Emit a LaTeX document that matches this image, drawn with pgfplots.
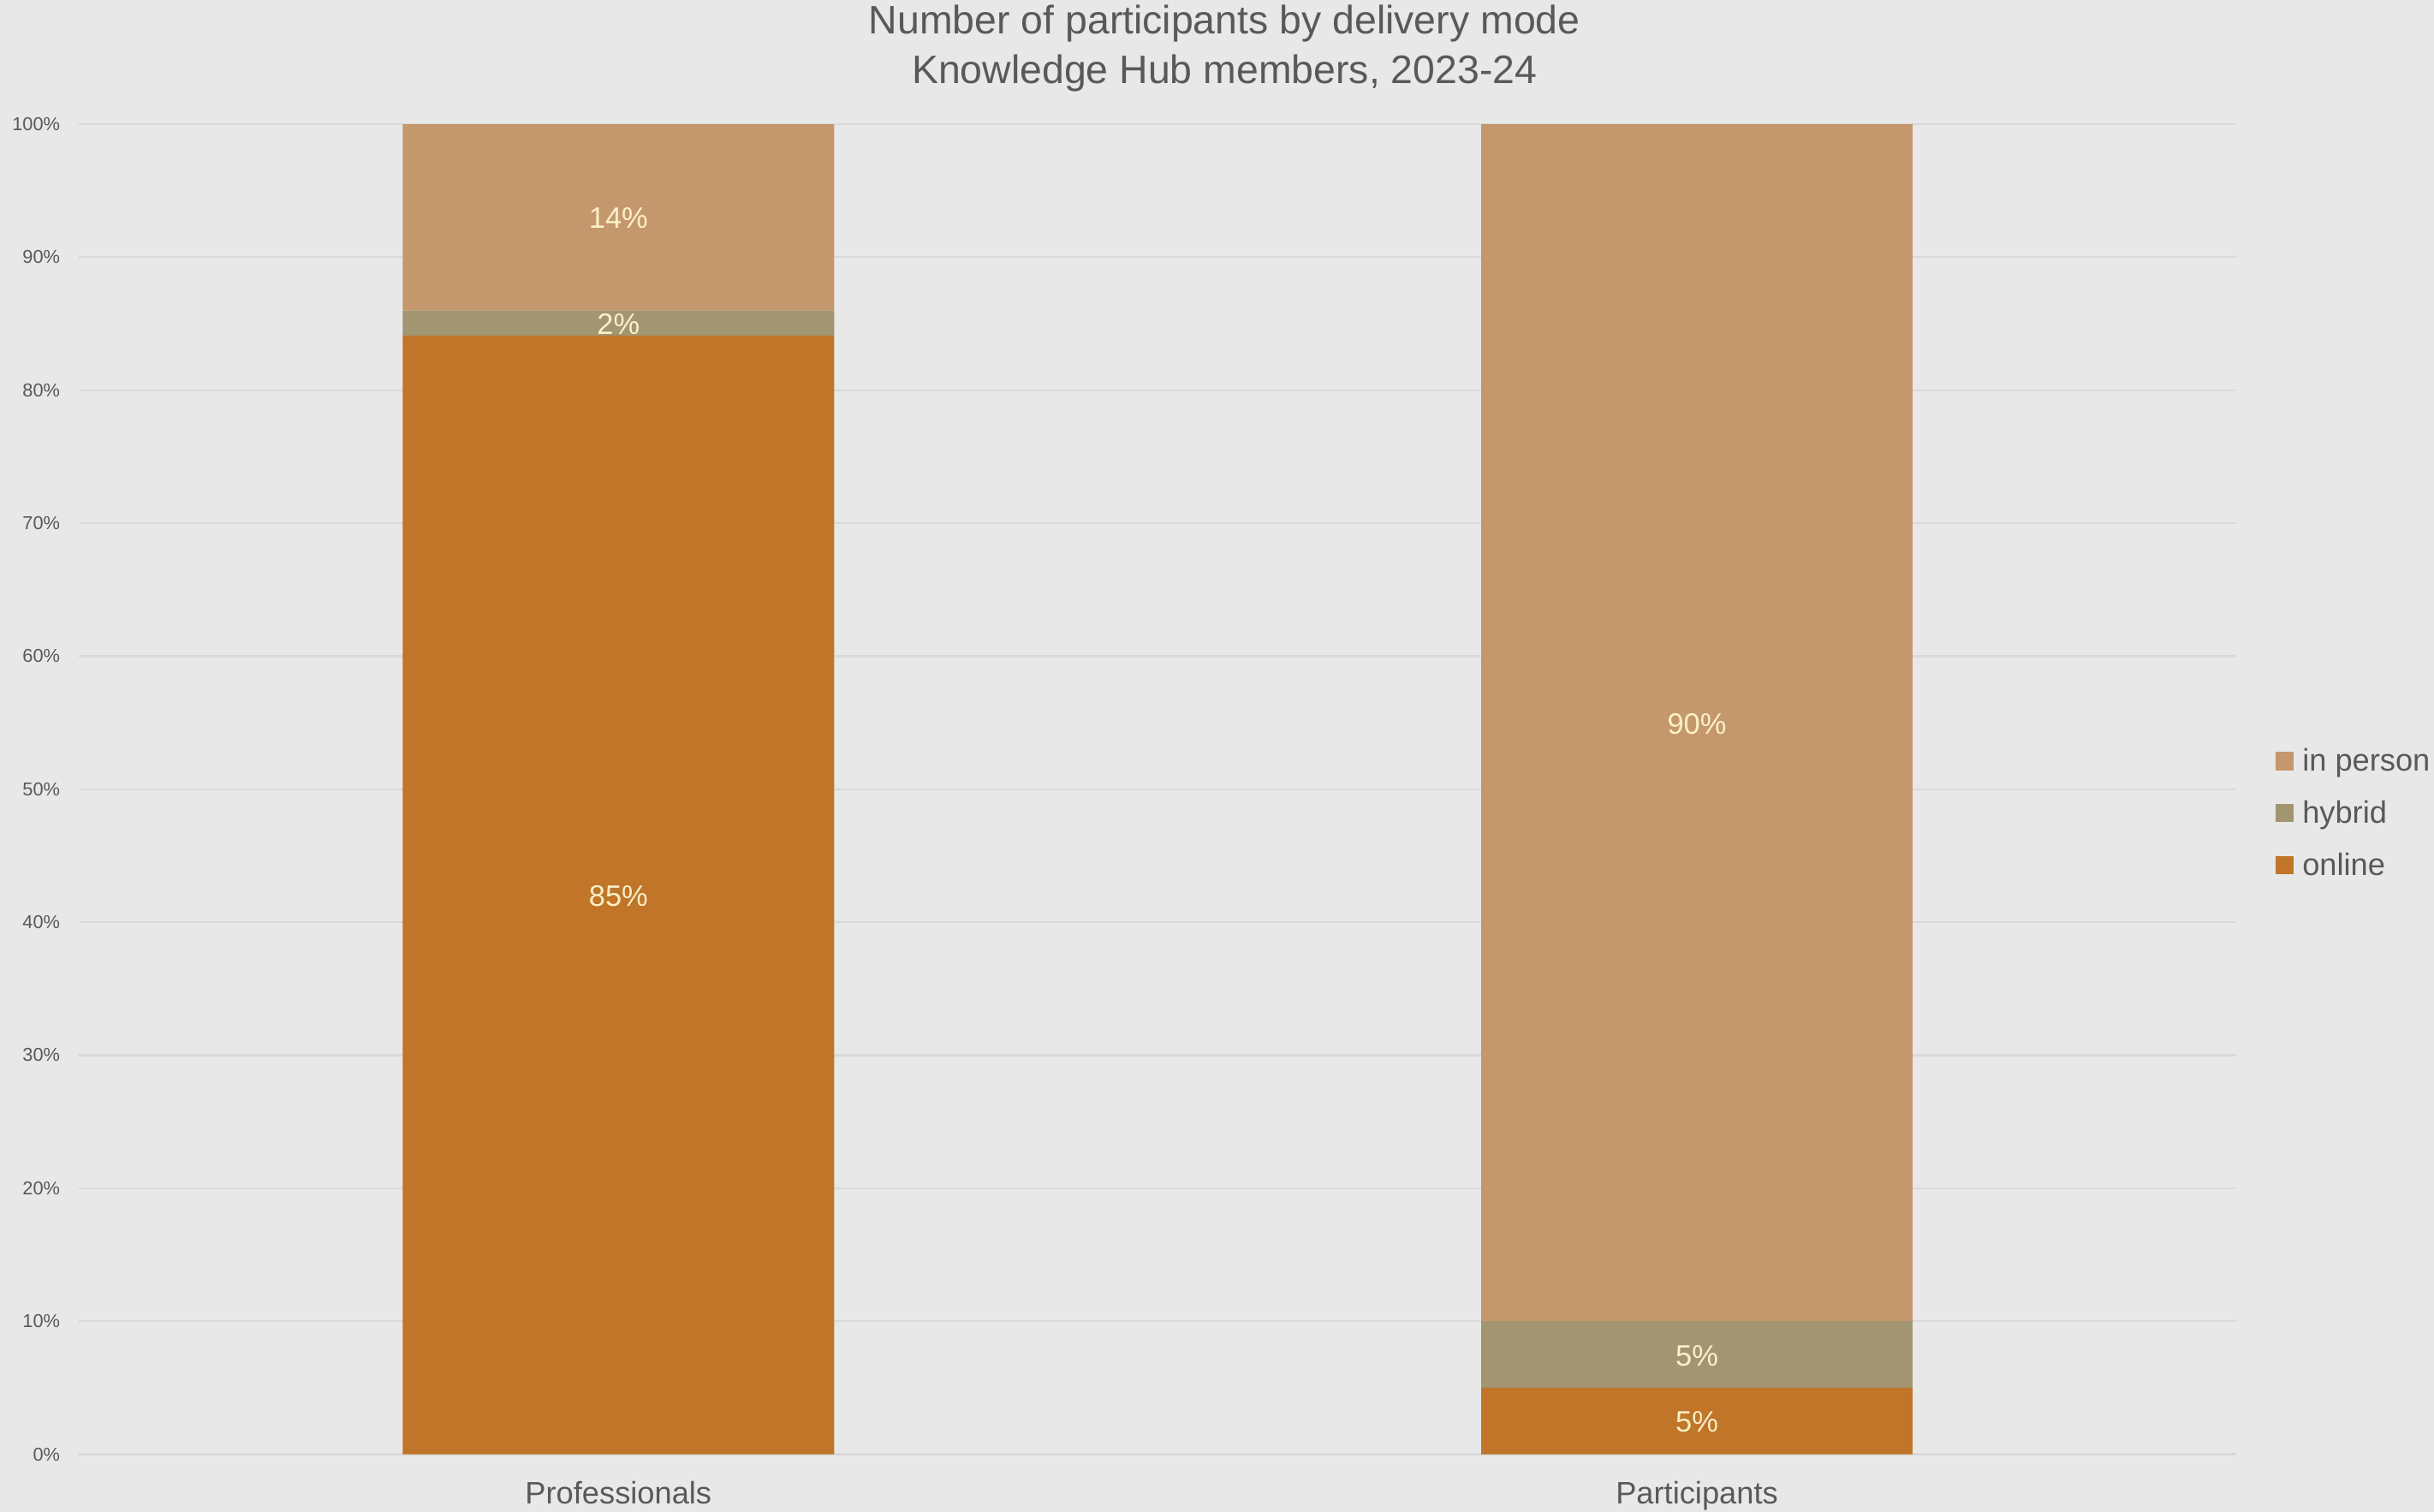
\documentclass[border=0pt]{standalone}
\usepackage{fontspec}
\setmainfont{Liberation Sans}
\usepackage{pgfplots}
\pgfplotsset{compat=1.18}
\definecolor{bgc}{HTML}{E8E8E8}
\definecolor{gridc}{HTML}{D9D9D9}
\definecolor{txt}{HTML}{595959}
\definecolor{online}{HTML}{C07529}
\definecolor{hybrid}{HTML}{A19572}
\definecolor{inperson}{HTML}{C4976C}
\definecolor{lblc}{HTML}{FFF0C8}
\pgfplotsset{sqlegend/.style={legend image code/.code={\fill[##1,draw=none] (0pt,-2.3pt) rectangle (5.8pt,3.5pt);}},
  geom/.style={at={(25.5pt,18.6pt)}, anchor=south west,
  scale only axis, width=694.75pt, height=428.4pt,
  xmin=-0.5, xmax=1.5, ymin=0, ymax=100}}
\begin{document}
\begin{tikzpicture}
\fill[bgc] (0,0) rectangle (784pt,487pt);
\useasboundingbox (0,0) rectangle (784pt,487pt);
\node[anchor=base, text=txt, font=\fontsize{12.8}{15}\selectfont, inner sep=0pt] at (394.4pt,476.2pt) {Number of participants by delivery mode};
\node[anchor=base, text=txt, font=\fontsize{12.8}{15}\selectfont, inner sep=0pt] at (394.4pt,460pt) {Knowledge Hub members, 2023-24};
\begin{axis}[
  geom,
  ybar stacked, bar width=0.4,
  xtick={0,1}, xticklabels={Professionals,Participants},
  ytick={0,10,20,30,40,50,60,70,80,90,100},
  yticklabels={0\%,10\%,20\%,30\%,40\%,50\%,60\%,70\%,80\%,90\%,100\%},
  axis line style={draw=none}, major tick length=0pt,
  ymajorgrids, grid style={gridc, line width=0.6pt},
  yticklabel style={font=\fontsize{6}{7}\selectfont, text=txt, inner sep=0pt, anchor=east, xshift=-6pt},
  xticklabel style={font=\fontsize{10}{12}\selectfont, text=txt, inner sep=0pt, anchor=base, yshift=-16.1pt},
  reverse legend,
  legend style={draw=none, fill=none, inner sep=0pt, outer sep=0pt,
    at={(1.0185,0.4805)}, anchor=west, row sep=6.8pt, column sep=2.7pt,
    nodes={inner sep=0pt, text height=7.5pt, text depth=2.5pt, font=\fontsize{10}{12}\selectfont, text=txt},
    legend cell align=left},
]
\addplot[fill=online, draw=none, sqlegend] coordinates {(0,84.1) (1,5)};
\addplot[fill=hybrid, draw=none, sqlegend] coordinates {(0,1.9) (1,5)};
\addplot[fill=inperson, draw=none, sqlegend] coordinates {(0,14) (1,90)};
\legend{online,hybrid,in person}
\end{axis}
\begin{axis}[geom, hide axis]
\addplot[draw=none, mark=none, nodes near coords, point meta=explicit symbolic,
  nodes near coords style={anchor=center, inner sep=0pt, yshift=-0.4pt, font=\fontsize{9.5}{11}\selectfont, text=lblc}]
  coordinates {(0,42.05) [85\%] (0,85.05) [2\%] (0,93.05) [14\%] (1,2.5) [5\%] (1,7.5) [5\%] (1,55) [90\%]};
\end{axis}
\end{tikzpicture}
\end{document}
